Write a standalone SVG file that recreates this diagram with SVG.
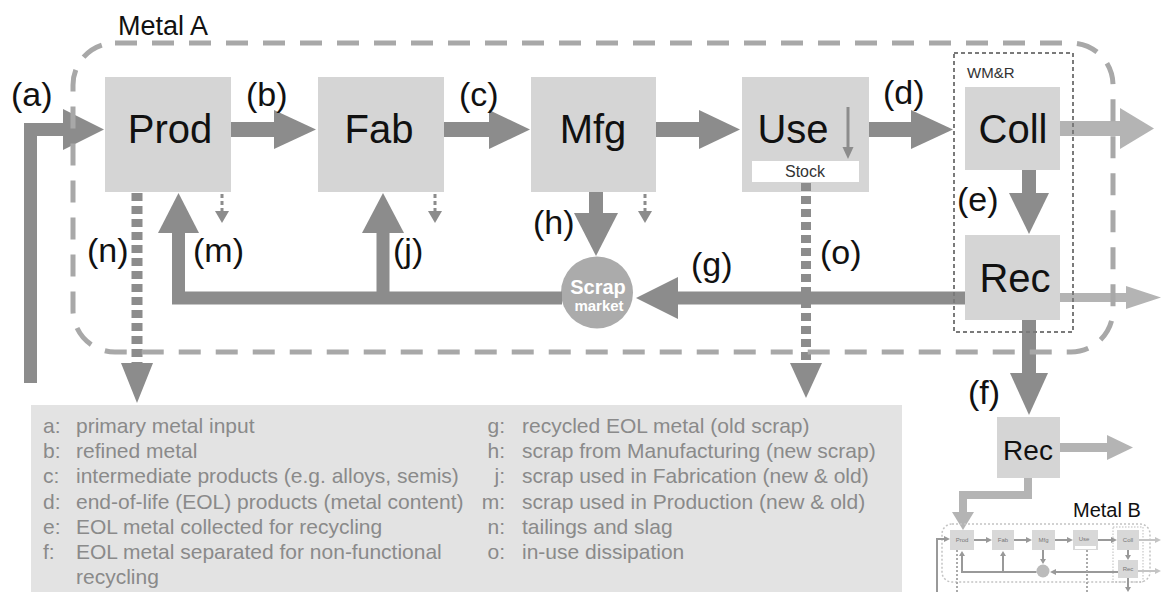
<svg xmlns="http://www.w3.org/2000/svg" width="1163" height="592" viewBox="0 0 1163 592">
<style>
text{font-family:"Liberation Sans",Arial,sans-serif}
.box{fill:#d5d5d5}
.bt{font-size:40px;fill:#111;text-anchor:middle}
.lbl{font-size:34px;fill:#111}
.ar{fill:#8c8c8c}
.arl{fill:#b4b4b4}
.sh{stroke:#8c8c8c;fill:none;stroke-linejoin:miter}
.shl{stroke:#b4b4b4;fill:none;stroke-linejoin:miter}
.dot{stroke:#8c8c8c;fill:none;stroke-dasharray:8 5}
.sd{stroke:#8c8c8c;stroke-width:3;stroke-dasharray:4 3;fill:none}
.lg{font-size:21px;fill:#8a8a8a}
.mb{fill:#d8d8d8}
.mt{font-size:6px;fill:#777;text-anchor:middle}
.ms{stroke:#999;stroke-width:2;fill:none}
.msl{stroke:#c4c4c4;stroke-width:2;fill:none}
.mh{fill:#999}
.mhl{fill:#c4c4c4}
.md{stroke:#aaa;stroke-width:2;stroke-dasharray:2 2;fill:none}
</style>

<!-- nodes -->
<g id="prod"><rect class="box" x="105" y="77" width="126" height="115"/><text class="bt" x="170" y="143">Prod</text></g>
<g id="fab"><rect class="box" x="318" y="77" width="126" height="115"/><text class="bt" x="379" y="143">Fab</text></g>
<g id="mfg"><rect class="box" x="531" y="77" width="125" height="115"/><text class="bt" x="593" y="143">Mfg</text></g>
<g id="use"><rect class="box" x="742" y="77" width="127" height="115"/><text class="bt" x="793" y="143">Use</text><rect x="752" y="161" width="107" height="21" fill="#fff"/><text x="805" y="177" font-size="16" text-anchor="middle" fill="#333">Stock</text></g>
<g id="coll"><rect class="box" x="965" y="87" width="95" height="83"/><text class="bt" x="1013" y="143">Coll</text></g>
<g id="rec"><rect class="box" x="965" y="235" width="95" height="85"/><text class="bt" x="1015" y="292">Rec</text></g>
<g id="scrap-market"><circle cx="597" cy="292.5" r="36" fill="#ababab"/><text x="598" y="294" font-size="20" font-weight="bold" fill="#fff" text-anchor="middle">Scrap</text><text x="599" y="311" font-size="15" font-weight="bold" fill="#fff" text-anchor="middle">market</text></g>
<g id="rec-metal-b"><rect class="box" x="997" y="417" width="63" height="61"/><text x="1028" y="460" font-size="28" fill="#111" text-anchor="middle">Rec</text></g>

<!-- connectors -->
<g id="connectors">
<path class="sh" stroke-width="13" d="M30.5 383V129.5H64"/><polygon class="ar" points="63,109 104,129.5 63,150"/>
<rect class="ar" x="231" y="122" width="45" height="15"/><polygon class="ar" points="274,110 316,129.5 274,149"/>
<rect class="ar" x="444" y="122" width="46" height="15"/><polygon class="ar" points="489,110 530,129.5 489,149"/>
<rect class="ar" x="656" y="122" width="44" height="15"/><polygon class="ar" points="699,110 740,129.5 699,149"/>
<rect class="ar" x="869" y="122" width="43" height="15"/><polygon class="ar" points="911,110 953,129.5 911,149"/>
<rect class="arl" x="1060" y="121" width="62" height="15"/><polygon class="arl" points="1120,108 1154,128.5 1120,149"/>
<rect class="ar" x="1022" y="170" width="14" height="24"/><polygon class="ar" points="1009,193 1029,234 1049,193"/>
<rect class="ar" x="1022" y="320" width="14" height="54"/><polygon class="ar" points="1010,373 1029,415 1048,373"/>
<rect class="arl" x="1060" y="293" width="68" height="9"/><polygon class="arl" points="1126,286 1161,297.5 1126,309"/>
<rect class="ar" x="676" y="291.5" width="289" height="13"/><polygon class="ar" points="678,277 636,298 678,319"/>
<rect class="ar" x="589" y="192" width="14" height="22"/><polygon class="ar" points="574,213 596,256 618,213"/>
<path class="sh" stroke-width="13" d="M562 298H178.5V232"/><polygon class="ar" points="158,233 178.5,193 199,233"/>
<rect class="ar" x="376.5" y="232" width="13" height="66"/><polygon class="ar" points="362,233 383,193 404,233"/>
<line class="dot" stroke-width="11" x1="137" y1="193" x2="137" y2="363"/><polygon class="ar" points="121,363 137,403 153,363"/>
<line class="dot" stroke-width="10" x1="806" y1="183" x2="806" y2="363"/><polygon class="ar" points="790,363 806,398 822,363"/>
<line class="sd" x1="222" y1="194" x2="222" y2="212"/><polygon class="ar" points="215,211 222,223 229,211"/>
<line class="sd" x1="435" y1="194" x2="435" y2="212"/><polygon class="ar" points="428,211 435,223 442,211"/>
<line class="sd" x1="645" y1="194" x2="645" y2="212"/><polygon class="ar" points="638,211 645,223 652,211"/>
<line x1="848" y1="107" x2="848" y2="149" stroke="#8c8c8c" stroke-width="3"/><polygon class="ar" points="842.5,147 848,159 853.5,147"/>
<rect class="arl" x="1060" y="443" width="49" height="9"/><polygon class="arl" points="1107,435 1133,447.5 1107,460"/>
<path class="shl" stroke-width="8" d="M1028 478V495H963V514"/><polygon class="arl" points="952,512 963,530 974,512"/>
</g>

<!-- boundaries -->
<g id="metal-a-boundary">
<rect x="73" y="43" width="1040" height="309" rx="42" fill="none" stroke="#a8a8a8" stroke-width="5" stroke-dasharray="22 15"/>
<text x="118" y="35" font-size="27" fill="#111">Metal A</text>
</g>
<g id="wmr-boundary">
<rect x="954" y="53" width="119" height="279" fill="none" stroke="#7a7a7a" stroke-width="2" stroke-dasharray="4 3"/>
<text x="967" y="77.5" font-size="15" fill="#333">WM&amp;R</text>
</g>

<!-- flow labels -->
<g id="labels">
<text class="lbl" x="11" y="106">(a)</text>
<text class="lbl" x="246" y="106">(b)</text>
<text class="lbl" x="459" y="106">(c)</text>
<text class="lbl" x="883" y="104">(d)</text>
<text class="lbl" x="957" y="211">(e)</text>
<text class="lbl" x="968" y="404">(f)</text>
<text class="lbl" x="691" y="276">(g)</text>
<text class="lbl" x="533" y="234">(h)</text>
<text class="lbl" x="393" y="262">(j)</text>
<text class="lbl" x="193" y="262">(m)</text>
<text class="lbl" x="87" y="262">(n)</text>
<text class="lbl" x="820" y="264">(o)</text>
</g>

<!-- Metal B mini diagram -->
<g id="metal-b">
<text x="1073" y="517" font-size="20" fill="#111">Metal B</text>
<rect x="942" y="524" width="208" height="58" rx="10" fill="none" stroke="#c4c4c4" stroke-width="1.5" stroke-dasharray="2 2"/>
<rect x="1113" y="527" width="30" height="55" fill="none" stroke="#bbb" stroke-width="1" stroke-dasharray="1.5 1.5"/>
<rect class="mb" x="950" y="530" width="24" height="20"/><text class="mt" x="962" y="542">Prod</text>
<rect class="mb" x="992" y="530" width="22" height="20"/><text class="mt" x="1003" y="542">Fab</text>
<rect class="mb" x="1032" y="530" width="23" height="20"/><text class="mt" x="1043.5" y="542">Mfg</text>
<rect class="mb" x="1073" y="530" width="25" height="20"/><rect x="1075" y="546" width="21" height="3" fill="#fff"/><text class="mt" x="1084" y="541">Use</text>
<rect class="mb" x="1117" y="530" width="22" height="20"/><text class="mt" x="1128" y="542">Coll</text>
<rect class="mb" x="1118" y="560" width="20" height="18"/><text class="mt" x="1128" y="571">Rec</text>
<circle cx="1043" cy="571" r="6.5" fill="#bbb"/>
<path class="ms" d="M937 592V539H945"/><polygon class="mh" points="944,536 950,539 944,542"/>
<line class="ms" x1="974" y1="540" x2="986" y2="540"/><polygon class="mh" points="986,537 992,540 986,543"/>
<line class="ms" x1="1014" y1="540" x2="1026" y2="540"/><polygon class="mh" points="1026,537 1032,540 1026,543"/>
<line class="ms" x1="1055" y1="540" x2="1067" y2="540"/><polygon class="mh" points="1067,537 1073,540 1067,543"/>
<line class="ms" x1="1098" y1="540" x2="1111" y2="540"/><polygon class="mh" points="1111,537 1117,540 1111,543"/>
<line class="msl" x1="1139" y1="540" x2="1155" y2="540"/><polygon class="mhl" points="1155,537 1161,540 1155,543"/>
<line class="ms" x1="1128" y1="550" x2="1128" y2="555"/><polygon class="mh" points="1125,555 1128,560 1131,555"/>
<line class="msl" x1="1138" y1="571" x2="1155" y2="571"/><polygon class="mhl" points="1155,568 1161,571 1155,574"/>
<line class="ms" x1="1118" y1="572" x2="1056" y2="572"/><polygon class="mh" points="1056,569 1050,572 1056,575"/>
<path class="ms" d="M1036.5 572H962V556"/><polygon class="mh" points="959,556 962,551 965,556"/>
<line class="ms" x1="1003" y1="572" x2="1003" y2="556"/><polygon class="mh" points="1000,556 1003,551 1006,556"/>
<line class="ms" x1="1043" y1="550" x2="1043" y2="559"/><polygon class="mh" points="1040,559 1043,564 1046,559"/>
<line class="md" x1="957" y1="550" x2="957" y2="592"/>
<line class="md" x1="1087" y1="550" x2="1087" y2="592"/>
<line class="ms" x1="1128" y1="578" x2="1128" y2="588"/><polygon class="mh" points="1125,587 1128,592 1131,587"/>
</g>

<!-- legend -->
<g id="legend">
<rect x="31" y="405" width="871" height="187" fill="#e3e3e3"/>
<text class="lg" x="43" y="433">a:</text><text class="lg" x="76" y="433">primary metal input</text>
<text class="lg" x="43" y="458">b:</text><text class="lg" x="76" y="458">refined metal</text>
<text class="lg" x="43" y="483">c:</text><text class="lg" x="76" y="483">intermediate products (e.g. alloys, semis)</text>
<text class="lg" x="43" y="509">d:</text><text class="lg" x="76" y="509">end-of-life (EOL) products (metal content)</text>
<text class="lg" x="43" y="534">e:</text><text class="lg" x="76" y="534">EOL metal collected for recycling</text>
<text class="lg" x="43" y="559">f:</text><text class="lg" x="76" y="559">EOL metal separated for non-functional</text>
<text class="lg" x="76" y="584">recycling</text>
<text class="lg" x="505" y="433" text-anchor="end">g:</text><text class="lg" x="522" y="433">recycled EOL metal (old scrap)</text>
<text class="lg" x="505" y="458" text-anchor="end">h:</text><text class="lg" x="522" y="458">scrap from Manufacturing (new scrap)</text>
<text class="lg" x="505" y="483" text-anchor="end">j:</text><text class="lg" x="522" y="483">scrap used in Fabrication (new &amp; old)</text>
<text class="lg" x="505" y="509" text-anchor="end">m:</text><text class="lg" x="522" y="509">scrap used in Production (new &amp; old)</text>
<text class="lg" x="505" y="534" text-anchor="end">n:</text><text class="lg" x="522" y="534">tailings and slag</text>
<text class="lg" x="505" y="559" text-anchor="end">o:</text><text class="lg" x="522" y="559">in-use dissipation</text>
</g>
</svg>
